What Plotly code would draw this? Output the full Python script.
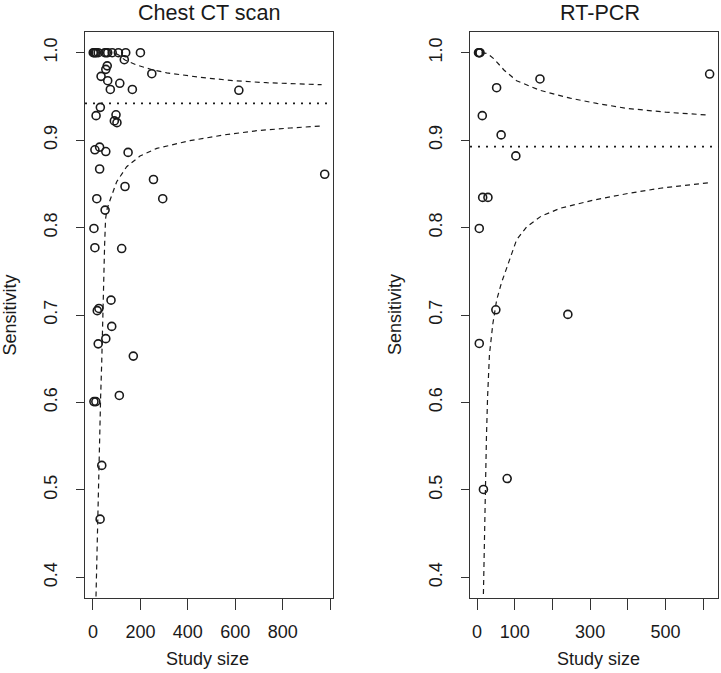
import plotly.graph_objects as go

# ---------------- data ----------------
ct_size = [1, 5, 10, 14, 22, 50, 56, 62, 81, 107, 138, 200,
           132, 60, 54, 34, 62, 113, 73, 166, 248, 615,
           31, 13, 97, 90, 101, 28, 8, 54, 148, 28, 255, 135, 977, 294,
           16, 51, 4, 8, 121, 76, 25, 18, 79, 54, 22, 170, 111, 4, 12, 37, 30]
ct_sens = [1.0, 1.0, 1.0, 1.0, 1.0, 1.0, 1.0, 1.0, 1.0, 1.0, 1.0, 1.0,
           0.992, 0.985, 0.981, 0.973, 0.968, 0.965, 0.958, 0.958, 0.976, 0.957,
           0.9375, 0.928, 0.929, 0.922, 0.920, 0.892, 0.889, 0.887, 0.886, 0.867, 0.855, 0.847, 0.861, 0.833,
           0.833, 0.820, 0.799, 0.777, 0.776, 0.717, 0.7075, 0.705, 0.687, 0.673, 0.667, 0.653, 0.608, 0.601, 0.601, 0.528, 0.4665]

pcr_size = [4, 6, 8, 52, 167, 14, 64, 103, 15, 29, 617, 6, 50, 241, 6, 17, 80]
pcr_sens = [1.0, 1.0, 1.0, 0.960, 0.970, 0.928, 0.906, 0.882, 0.8345, 0.8345,
            0.9756, 0.799, 0.706, 0.7007, 0.6675, 0.5005, 0.513]

ct_pooled = 0.942
pcr_pooled = 0.8925

# funnel limits
ct_upper_x = [95, 110, 135, 184, 250, 311, 451, 592, 733, 964]
ct_upper_y = [0.9995, 0.997, 0.9916, 0.986, 0.9805, 0.977, 0.9719, 0.968, 0.9657, 0.9634]
ct_lower_x = [12.7, 15.6, 19.7, 24, 26.7, 29.5, 32.3, 36.7, 39.4, 45, 49, 53, 60, 72, 100, 142, 198, 269, 409, 550, 690, 831, 964]
ct_lower_y = [0.378, 0.416, 0.454, 0.492, 0.530, 0.568, 0.607, 0.645, 0.683, 0.734, 0.78, 0.81, 0.822, 0.8315,
              0.8525, 0.8696, 0.8818, 0.8906, 0.8994, 0.9059, 0.9108, 0.9139, 0.9162]

pcr_upper_x = [12, 28, 45, 61, 72, 105, 167, 247, 318, 397, 500, 610]
pcr_upper_y = [1.0, 0.999, 0.993, 0.986, 0.980, 0.968, 0.957, 0.948, 0.942, 0.9364, 0.932, 0.9288]
pcr_lower_x = [17, 19.5, 22, 25, 28, 33, 42, 52, 65, 79, 105, 132, 170, 220, 309, 400, 486, 614]
pcr_lower_y = [0.381, 0.45, 0.511, 0.56, 0.606, 0.655, 0.69, 0.717, 0.737, 0.755, 0.786, 0.801,
               0.813, 0.822, 0.8315, 0.839, 0.845, 0.8513]

ct_xticks = [0, 200, 400, 600, 800, 1000]
ct_xlabels = ["0", "200", "400", "600", "800", ""]
pcr_xticks = [0, 100, 200, 300, 400, 500, 600]
pcr_xlabels = ["0", "100", "", "300", "", "500", ""]
yticks = [0.4, 0.5, 0.6, 0.7, 0.8, 0.9, 1.0]
ylabels = ["0.4", "0.5", "0.6", "0.7", "0.8", "0.9", "1.0"]

# ---------------- figure ----------------
W, H = 721, 673
INK = "#1a1a1a"
FONT = "Liberation Sans, Arial, Helvetica, sans-serif"

fig = go.Figure()

marker = dict(symbol="circle-open", size=8, color=INK, line=dict(width=1.6, color=INK))
dash_line = dict(color=INK, width=1.2, dash="5px,4px")

fig.add_trace(go.Scatter(x=ct_size, y=ct_sens, mode="markers", marker=marker, xaxis="x", yaxis="y", cliponaxis=False))
fig.add_trace(go.Scatter(x=ct_upper_x, y=ct_upper_y, mode="lines", line=dash_line, xaxis="x", yaxis="y"))
fig.add_trace(go.Scatter(x=ct_lower_x, y=ct_lower_y, mode="lines", line=dash_line, xaxis="x", yaxis="y"))

fig.add_trace(go.Scatter(x=pcr_size, y=pcr_sens, mode="markers", marker=marker, xaxis="x2", yaxis="y2", cliponaxis=False))
fig.add_trace(go.Scatter(x=pcr_upper_x, y=pcr_upper_y, mode="lines", line=dash_line, xaxis="x2", yaxis="y2"))
fig.add_trace(go.Scatter(x=pcr_lower_x, y=pcr_lower_y, mode="lines", line=dash_line, xaxis="x2", yaxis="y2"))

for xr, yr, val in [("x", "y", ct_pooled), ("x2", "y2", pcr_pooled)]:
    fig.add_shape(type="line", xref=f"{xr} domain", yref=yr, x0=0, x1=1, y0=val, y1=val,
                  line=dict(color=INK, width=1.8, dash="2px,6px"))

ydom = [1 - 598.3 / H, 1 - 32 / H]
common_x = dict(ticks="outside", ticklen=11, tickwidth=1.2, tickcolor="#333",
                showline=True, mirror=True, linecolor="#333", linewidth=1.2,
                showgrid=False, zeroline=False, automargin=False, ticklabelstandoff=6,
                tickfont=dict(family=FONT, size=18, color=INK))
common_y = dict(ticks="outside", ticklen=8, tickwidth=1.2, tickcolor="#333",
                showline=True, mirror=True, linecolor="#333", linewidth=1.2,
                showgrid=False, zeroline=False, automargin=False, tickangle=-90,
                ticklabelstandoff=12,
                tickvals=yticks, ticktext=ylabels, range=[0.376, 1.0237], domain=ydom,
                tickfont=dict(family=FONT, size=18, color=INK))

fig.update_layout(
    width=W, height=H, margin=dict(l=0, r=0, t=0, b=0),
    paper_bgcolor="white", plot_bgcolor="white", showlegend=False,
    font=dict(family=FONT, color=INK),
    xaxis=dict(domain=[85 / W, 333 / W], range=[-33.7, 1012], anchor="y",
               tickvals=ct_xticks, ticktext=ct_xlabels, **common_x),
    yaxis=dict(anchor="x", **common_y),
    xaxis2=dict(domain=[470 / W, 718.3 / W], range=[-18.6, 640], anchor="y2",
                tickvals=pcr_xticks, ticktext=pcr_xlabels, **common_x),
    yaxis2=dict(anchor="x2", **common_y),
)

def txt(x, y, s, size, angle=0):
    fig.add_annotation(x=x / W, y=1 - y / H, xref="paper", yref="paper", text=s, showarrow=False,
                       xanchor="center", yanchor="middle", textangle=angle,
                       font=dict(family=FONT, size=size, color=INK))

txt(209, 12, "Chest CT scan", 21.6)
txt(600, 12, "RT-PCR", 21.6)
txt(207, 659, "Study size", 18)
txt(598, 659, "Study size", 18)
txt(9.5, 315, "Sensitivity", 18, -90)
txt(395, 315, "Sensitivity", 18, -90)

fig.write_html(
    "out.html",
    config={"displayModeBar": False},
    post_script="document.body.style.margin='0';document.body.style.overflow='hidden';",
)
